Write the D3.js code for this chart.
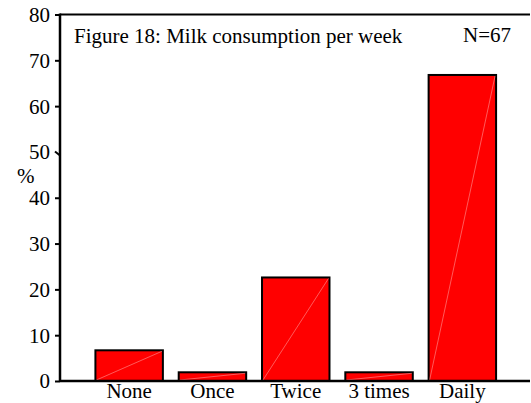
<!DOCTYPE html>
<html lang="en">
	<head>
		<meta charset="utf-8">
		<title>Milk consumption per week</title>
		<script type="text/javascript" src="https://cdn.jsdelivr.net/npm/d3@7"></script>
		<style type="text/css">
			body { margin: 0; background: #fff; }
			text { font-family: "Liberation Serif", "Times New Roman", serif; }
		</style>
	</head>
	<body>
		<script>
			var categories = ["None", "Once", "Twice", "3 times", "Daily"];
			var percents = [6.7, 1.9, 22.6, 1.9, 66.8];
			var yTicks = [0, 10, 20, 30, 40, 50, 60, 70, 80];
			var title = "Figure 18: Milk consumption per week";
			var sampleLabel = "N=67";

			var outerWidth = 531,
				outerHeight = 403,
				axisX = 60,
				rightEdge = 530,
				topY = 14.5,
				baseY = 381;

			var svg = d3.select("body")
						.append("svg")
						.attr("width", outerWidth)
						.attr("height", outerHeight);

			var x = d3.scaleBand()
					  .domain(categories)
					  .range([87.5, 504])
					  .paddingInner(0.19)
					  .paddingOuter(0.095);

			var y = d3.scaleLinear()
					  .domain([0, 80])
					  .range([baseY, topY]);

			// bars
			var bars = svg.append("g")
				.selectAll("g")
				.data(categories)
				.enter().append("g");

			bars.append("rect")
				.attr("x", function(d) { return x(d); })
				.attr("y", function(d, i) { return y(percents[i]); })
				.attr("width", x.bandwidth())
				.attr("height", function(d, i) { return y(0) - y(percents[i]); })
				.attr("fill", "#ff0000")
				.attr("stroke", "#000")
				.attr("stroke-width", 2);

			// faint diagonal inside each bar
			bars.append("line")
				.attr("x1", function(d) { return x(d) + 1; })
				.attr("y1", baseY - 1)
				.attr("x2", function(d) { return x(d) + x.bandwidth() - 1; })
				.attr("y2", function(d, i) { return y(percents[i]) + 1; })
				.attr("stroke", "#ffb4b4")
				.attr("stroke-width", 0.5);

			// y axis
			var yAxis = d3.axisLeft(y)
						  .tickValues(yTicks)
						  .tickSize(5)
						  .tickPadding(5)
						  .tickFormat(d3.format("d"));

			var gy = svg.append("g")
				.attr("transform", "translate(" + axisX + ",0)")
				.call(yAxis);
			gy.select(".domain").remove();
			gy.selectAll(".tick line")
				.attr("stroke", "#000")
				.attr("stroke-width", 2);
			gy.selectAll(".tick")
				.filter(function(d) { return d === 50; })
				.select("line")
				.attr("y1", 3)
				.attr("y2", -1);
			gy.selectAll(".tick text")
				.attr("font-family", "'Liberation Serif', serif")
				.attr("font-size", 21)
				.attr("fill", "#000")
				.attr("dy", "0.33em");

			// axis lines: vertical axis, top frame, baseline
			svg.append("line")
				.attr("x1", axisX).attr("x2", axisX)
				.attr("y1", topY - 1).attr("y2", baseY + 1)
				.attr("stroke", "#000").attr("stroke-width", 2.5);
			svg.append("line")
				.attr("x1", axisX).attr("x2", rightEdge)
				.attr("y1", topY).attr("y2", topY)
				.attr("stroke", "#000").attr("stroke-width", 2);
			svg.append("line")
				.attr("x1", axisX).attr("x2", rightEdge)
				.attr("y1", baseY).attr("y2", baseY)
				.attr("stroke", "#000").attr("stroke-width", 2.5);

			// category labels
			svg.append("g")
				.selectAll("text")
				.data(categories)
				.enter().append("text")
				.attr("x", function(d) { return x(d) + x.bandwidth() / 2; })
				.attr("y", 398)
				.attr("text-anchor", "middle")
				.attr("font-size", 21)
				.text(function(d) { return d; });

			// titles
			svg.append("text")
				.attr("x", 74)
				.attr("y", 43)
				.attr("font-size", 21)
				.text(title);
			svg.append("text")
				.attr("x", 511)
				.attr("y", 42)
				.attr("text-anchor", "end")
				.attr("font-size", 21)
				.text(sampleLabel);

			svg.append("text")
				.attr("x", 17)
				.attr("y", 183)
				.attr("font-size", 21)
				.text("%");
		</script>
	</body>
</html>
